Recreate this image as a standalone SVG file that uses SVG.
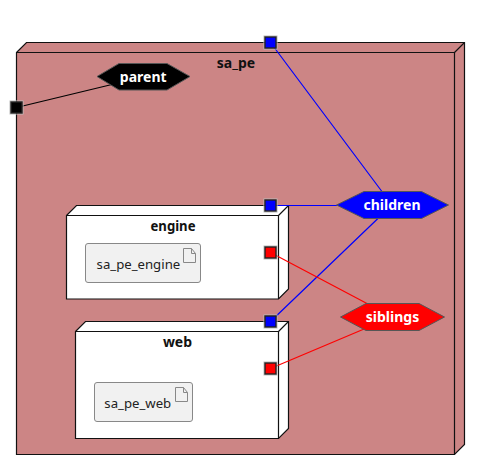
<svg xmlns="http://www.w3.org/2000/svg" width="480" height="470" viewBox="0 0 480 470">
<style>
text{font-family:"Noto Sans","Open Sans",sans-serif;font-size:14px;text-anchor:middle}
.t{font-weight:bold;fill:#111}
.h{font-weight:bold;fill:#fff}
.l{fill:#222;font-size:13.2px}
.b{stroke:#111;stroke-width:1.2;stroke-linejoin:miter}
.d{fill:#f1f1f1;stroke:#888;stroke-width:1}
.i{fill:none;stroke:#888;stroke-width:1}
.hx{stroke:#555;stroke-width:1}
.p{stroke:#222;stroke-width:1.4}
.o{fill:none;stroke:#bbb;stroke-width:1}
.c{fill:none;stroke-width:1.2}
</style>
<defs>
<g id="port"><rect class="o" x="-6.5" y="-6.5" width="13" height="13"/><rect class="p" x="-5.5" y="-5.5" width="11" height="11"/></g>
</defs>
<g id="sa_pe">
<path class="b" fill="#cc8585" d="M16.5 52.5L26.5 42.5H464.5V444.5L454.5 454.5H16.5Z"/>
<path class="b" fill="none" d="M16.5 52.5H454.5V454.5M454.5 52.5L464.5 42.5"/>
<text class="t" x="236" y="68">sa_pe</text>
</g>
<g id="engine">
<path class="b" fill="#fff" d="M66.5 215.5L76.5 205.5H288.5V289L278.5 299H66.5Z"/>
<path class="b" fill="none" d="M66.5 215.5H278.5V299M278.5 215.5L288.5 205.5"/>
<text class="t" x="173" y="231" textLength="45" lengthAdjust="spacingAndGlyphs">engine</text>
<g id="sa_pe_engine">
<rect class="d" x="85.5" y="243.5" width="115" height="39" rx="2.5"/>
<path class="i" d="M183.5 248.5H191.5L195.5 253.5V262.5H183.5ZM191.5 248.5V253.5H195.5"/>
<text class="l" x="138.4" y="269">sa_pe_engine</text>
</g>
</g>
<g id="web">
<path class="b" fill="#fff" d="M75.5 331.5L85.5 321.5H288.5V428.5L278.5 438.5H75.5Z"/>
<path class="b" fill="none" d="M75.5 331.5H278.5V438.5M278.5 331.5L288.5 321.5"/>
<text class="t" x="177.5" y="347">web</text>
<g id="sa_pe_web">
<rect class="d" x="94.5" y="382.5" width="98" height="39" rx="2.5"/>
<path class="i" d="M175.5 387.5H183.5L187.5 392.5V401.5H175.5ZM183.5 387.5V392.5H187.5"/>
<text class="l" x="137.8" y="408">sa_pe_web</text>
</g>
</g>
<g id="connectors">
<path class="c" stroke="#000" d="M16.5 107.5L143 77"/>
<path class="c" stroke="#00f" d="M270.5 42.5L392 205M270.5 205.5H392M270.5 321.5L392 205"/>
<path class="c" stroke="#f00" d="M270.5 252.5L392.5 317M270.5 368.5L392.5 317"/>
</g>
<g id="parent">
<polygon class="hx" fill="#000" points="97,76.5 119,63.5 167,63.5 190,76.5 167,90 119,90"/>
<text class="h" x="143.2" y="82">parent</text>
</g>
<g id="children">
<polygon class="hx" fill="#00f" points="336.5,205 364,191.5 421.5,191.5 448.5,205 421.5,218.5 364,218.5"/>
<text class="h" x="392" y="210">children</text>
</g>
<g id="siblings">
<polygon class="hx" fill="#f00" points="340.5,317 366,303.5 419,303.5 444.5,317 419,330.5 366,330.5"/>
<text class="h" x="392.5" y="322">siblings</text>
</g>
<g id="port_parent"><use href="#port" x="16.5" y="107.5" fill="#000"/></g>
<g id="port_sa_pe_children"><use href="#port" x="270.5" y="42.5" fill="#00f"/></g>
<g id="port_engine_children"><use href="#port" x="270.5" y="205.5" fill="#00f"/></g>
<g id="port_engine_siblings"><use href="#port" x="270.5" y="252.5" fill="#f00"/></g>
<g id="port_web_children"><use href="#port" x="270.5" y="321.5" fill="#00f"/></g>
<g id="port_web_siblings"><use href="#port" x="270.5" y="368.5" fill="#f00"/></g>
</svg>
